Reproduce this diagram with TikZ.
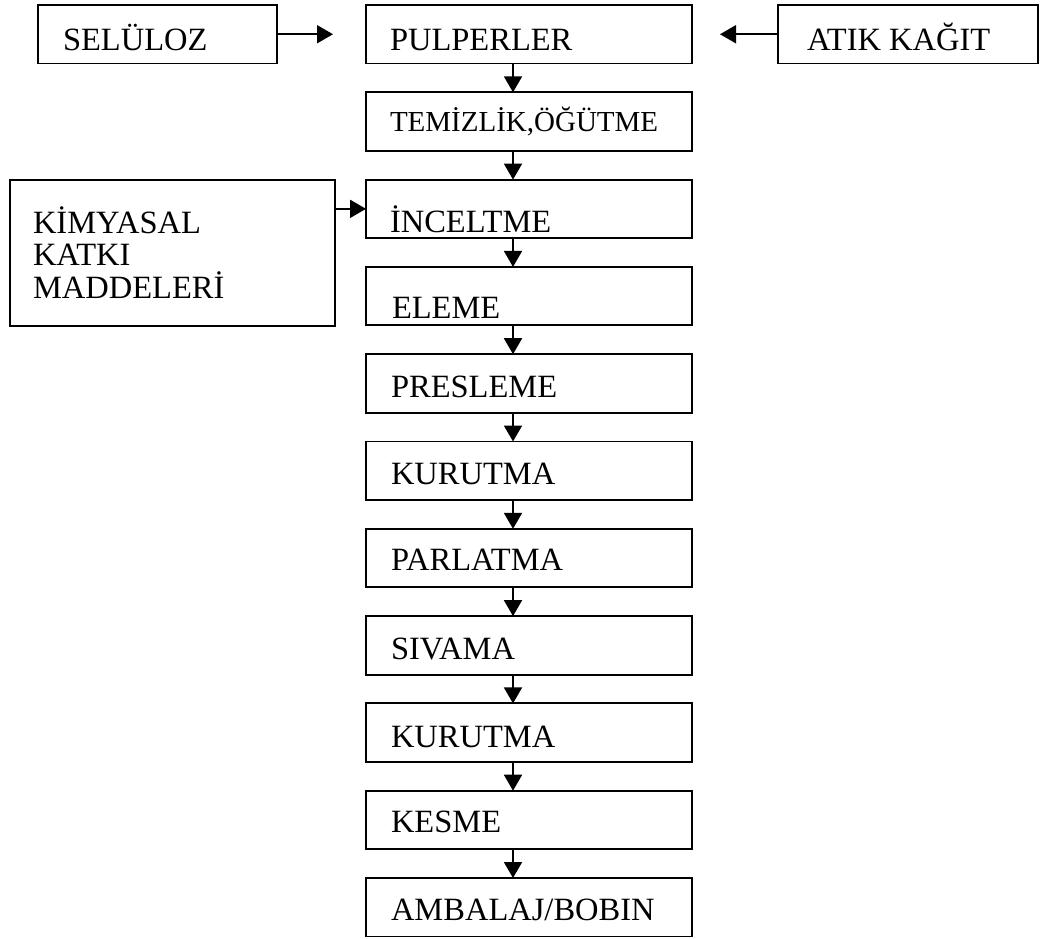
\documentclass[tikz,border=0pt]{standalone}
\usepackage{fontspec}
\setmainfont{Liberation Serif}
\usetikzlibrary{arrows.meta}
% left-aligned label of fixed width with a left inset
\newcommand\flowtext[3]{\makebox[#1][l]{\hspace*{#2}#3}}

\begin{document}
\begin{tikzpicture}[x=1pt,y=1pt,
  stepbox/.style={draw=black, line width=1.9pt, inner sep=0pt, outer sep=0pt,
    anchor=north west, minimum height=58.5pt, minimum width=326pt,
    text depth=0pt, font=\fontsize{32.5}{39}\selectfont},
  flow/.style={draw=black, line width=1.9pt, -{Triangle[length=16pt,width=18pt]}}]
\useasboundingbox (0,0) rectangle (1041,-938);

% inputs
\node[stepbox, minimum width=239pt, text height=31.5pt] (sel) at (38,-5)
  {\flowtext{239pt}{25pt}{SELÜLOZ}};
\node[stepbox, minimum width=260pt, text height=31.5pt] (atik) at (778,-5)
  {\flowtext{260pt}{29pt}{ATIK KAĞIT}};
\node[stepbox, minimum width=325pt, minimum height=146pt,
      text height=30pt, text depth=70pt] (kim) at (10,-180)
  {\flowtext{325pt}{23pt}{\parbox[t]{290pt}{\fontsize{32.5}{32.5}\selectfont KİMYASAL\\KATKI\\MADDELERİ}}};

% main process column
\node[stepbox, text height=31.5pt] (b0) at (366,-5)
  {\flowtext{326pt}{24pt}{PULPERLER}};
\node[stepbox, text height=19.5pt, font=\fontsize{29}{35}\selectfont] (b1) at (366,-92.3)
  {\flowtext{326pt}{24pt}{TEMİZLİK,ÖĞÜTME}};
\node[stepbox, text height=47.5pt] (b2) at (366,-179.6)
  {\flowtext{326pt}{24pt}{İNCELTME}};
\node[stepbox, text height=45.5pt] (b3) at (366,-266.9)
  {\flowtext{326pt}{26pt}{ELEME}};
\node[stepbox, text height=27.5pt] (b4) at (366,-354.2)
  {\flowtext{326pt}{25pt}{PRESLEME}};
\node[stepbox, text height=27.5pt] (b5) at (366,-441.5)
  {\flowtext{326pt}{25pt}{KURUTMA}};
\node[stepbox, text height=25.5pt] (b6) at (366,-528.8)
  {\flowtext{326pt}{25pt}{PARLATMA}};
\node[stepbox, text height=27.5pt] (b7) at (366,-616.1)
  {\flowtext{326pt}{25pt}{SIVAMA}};
\node[stepbox, text height=29.5pt] (b8) at (366,-703.4)
  {\flowtext{326pt}{25pt}{KURUTMA}};
\node[stepbox, text height=25.5pt] (b9) at (366,-790.7)
  {\flowtext{326pt}{25pt}{KESME}};
\node[stepbox, text height=25.5pt] (b10) at (366,-878)
  {\flowtext{326pt}{25pt}{AMBALAJ/BOBIN}};

% vertical flow line position
\coordinate (stem) at (513,0);

% connectors
\draw[flow, shorten >=33pt] (sel.east) -- (b0.west);
\draw[flow, shorten >=28pt] (atik.west) -- (b0.east);
\draw[flow] (kim.east |- b2.west) -- (b2.west);
\foreach \a/\b in {b0/b1,b1/b2,b2/b3,b3/b4,b4/b5,b5/b6,b6/b7,b7/b8,b8/b9,b9/b10}
  \draw[flow] (\a.south -| stem) -- (\b.north -| stem);
\end{tikzpicture}
\end{document}
